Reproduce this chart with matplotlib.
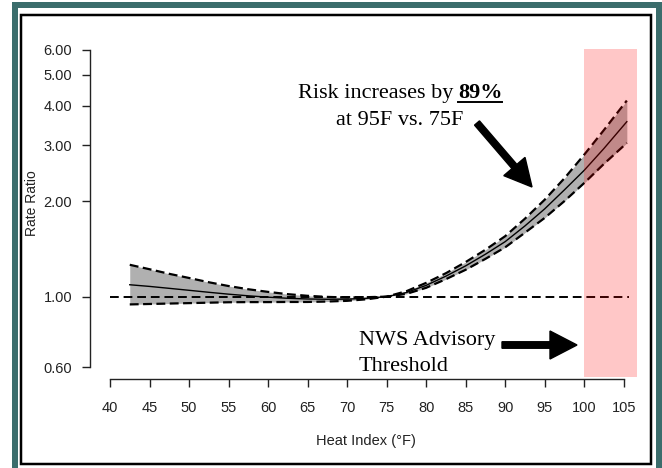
"""
Heat index vs rate ratio, with confidence band and NWS threshold
"""
import matplotlib
matplotlib.use('Agg')
from matplotlib import pyplot as plt
from matplotlib.patches import Rectangle, FancyArrow
from matplotlib.transforms import IdentityTransform
from matplotlib.ticker import NullLocator

###############################################################################
# data
heat = [42.5, 45, 47.5, 50, 52.5, 55, 57.5, 60, 62.5, 65, 67.5, 70, 72.5,
        75, 77.5, 80, 82.5, 85, 87.5, 90, 92.5, 95, 97.5, 100, 102.5, 105.4]
rr = [1.09, 1.077, 1.062, 1.047, 1.032, 1.018, 1.006, 0.996, 0.988, 0.983,
      0.981, 0.982, 0.988, 1.0, 1.03, 1.085, 1.16, 1.25, 1.36, 1.49, 1.67,
      1.89, 2.17, 2.5, 2.93, 3.56]
rr_hi = [1.26, 1.22, 1.18, 1.145, 1.11, 1.08, 1.055, 1.035, 1.018, 1.006,
         0.998, 0.994, 0.996, 1.0, 1.04, 1.105, 1.185, 1.285, 1.405, 1.55,
         1.76, 2.02, 2.36, 2.8, 3.35, 4.15]
rr_lo = [0.945, 0.948, 0.951, 0.954, 0.957, 0.96, 0.961, 0.961, 0.962, 0.962,
         0.965, 0.97, 0.981, 1.0, 1.02, 1.066, 1.135, 1.215, 1.315, 1.43,
         1.59, 1.77, 2.0, 2.28, 2.62, 3.05]

yticks = [0.6, 1, 2, 3, 4, 5, 6]
ytick_labels = ['0.60', '1.00', '2.00', '3.00', '4.00', '5.00', '6.00']
xticks = list(range(40, 106, 5))
threshold = 100

###############################################################################
plt.rcParams['font.family'] = 'Liberation Sans'
W, H = 662, 468
fig = plt.figure(figsize=(W / 100, H / 100), dpi=100)
fig.patch.set_facecolor('white')

ax = fig.add_axes([90 / W, (H - 379) / H, 555 / W, 339 / H])
ax.set_yscale('log')
ax.set_xlim(37.47, 107.7)
ax.set_ylim(0.550, 6.44)

ax.fill_between(heat, rr_lo, rr_hi, color='#b0b0b0', lw=0, zorder=1)
ax.plot(heat, rr_hi, color='k', lw=1.6, ls='--', dashes=(4, 2), zorder=2)
ax.plot(heat, rr_lo, color='k', lw=1.6, ls='--', dashes=(4, 2), zorder=2)
ax.plot(heat, rr, color='k', lw=1.0, zorder=3)
ax.plot([40, 105.7], [1, 1], color='k', lw=1.4, ls='--', dashes=(4.5, 2.5),
        zorder=2)
ax.axvspan(threshold, 106.65, ymin=0.006, ymax=0.973, color='red',
           alpha=0.22, lw=0, zorder=5)

ax.set_yticks(yticks)
ax.set_yticklabels(ytick_labels)
ax.yaxis.set_minor_locator(NullLocator())
ax.set_xticks(xticks)
ax.tick_params(axis='both', length=5.8, width=1.0, colors='#222222',
               labelsize=10.5)
ax.tick_params(axis='y', pad=7)
ax.tick_params(axis='x', pad=10)
for s in ['top', 'right']:
    ax.spines[s].set_visible(False)
ax.spines['left'].set_bounds(0.6, 6)
ax.spines['bottom'].set_bounds(40, 105)
for s in ['left', 'bottom']:
    ax.spines[s].set_linewidth(1.0)
    ax.spines[s].set_color('#222222')

fig.text(366 / W, 1 - 441 / H, 'Heat Index (°F)', ha='center', va='center',
         fontsize=10.5, color='#222222')
fig.text(31.5 / W, 1 - 203 / H, 'Rate Ratio', ha='center', va='center',
         rotation=90, fontsize=10, color='#222222')

###############################################################################
# annotations
serif = 'Liberation Serif'
fs = 16
t1 = fig.text(0, 1 - 98 / H, 'Risk increases by', fontsize=fs, family=serif,
              ha='left', va='baseline')
t2 = fig.text(0, 1 - 98 / H, '89%', fontsize=fs, family=serif,
              weight='bold', ha='left', va='baseline')
fig.canvas.draw()
r = fig.canvas.get_renderer()
w1 = t1.get_window_extent(r).width
w2 = t2.get_window_extent(r).width
gap = 5
x0 = 400 - (w1 + gap + w2) / 2
t1.set_x(x0 / W)
t2.set_x((x0 + w1 + gap) / W)
fig.add_artist(plt.Line2D([x0 + w1 + gap, x0 + w1 + gap + w2],
                          [H - 102, H - 102], color='k', lw=1.4,
                          transform=IdentityTransform()))
fig.text(400 / W, 1 - 125 / H, 'at 95F vs. 75F', fontsize=fs, family=serif,
         ha='center', va='baseline')

fig.text(359 / W, 1 - 345 / H, 'NWS Advisory', fontsize=fs, family=serif,
         ha='left', va='baseline')
fig.text(359 / W, 1 - 371 / H, 'Threshold', fontsize=fs, family=serif,
         ha='left', va='baseline')

fig.add_artist(FancyArrow(502, H - 345, 75, 0, width=6.5, head_width=28,
                          head_length=27, length_includes_head=True,
                          color='k', transform=IdentityTransform()))
fig.add_artist(FancyArrow(477, H - 123, 55, -64, width=6.5, head_width=28,
                          head_length=27, length_includes_head=True,
                          color='k', transform=IdentityTransform()))

###############################################################################
# frame
fig.add_artist(Rectangle((14.5, -3), 644, 466, fill=False, ec='#3b6d6c',
                         lw=6 * 0.72, transform=IdentityTransform()))
fig.add_artist(Rectangle((20.5, H - 463.5), 630.5, 449, fill=False, ec='k',
                         lw=2.5 * 0.72, transform=IdentityTransform()))

fig.savefig('out.png', dpi=100, facecolor='white')
